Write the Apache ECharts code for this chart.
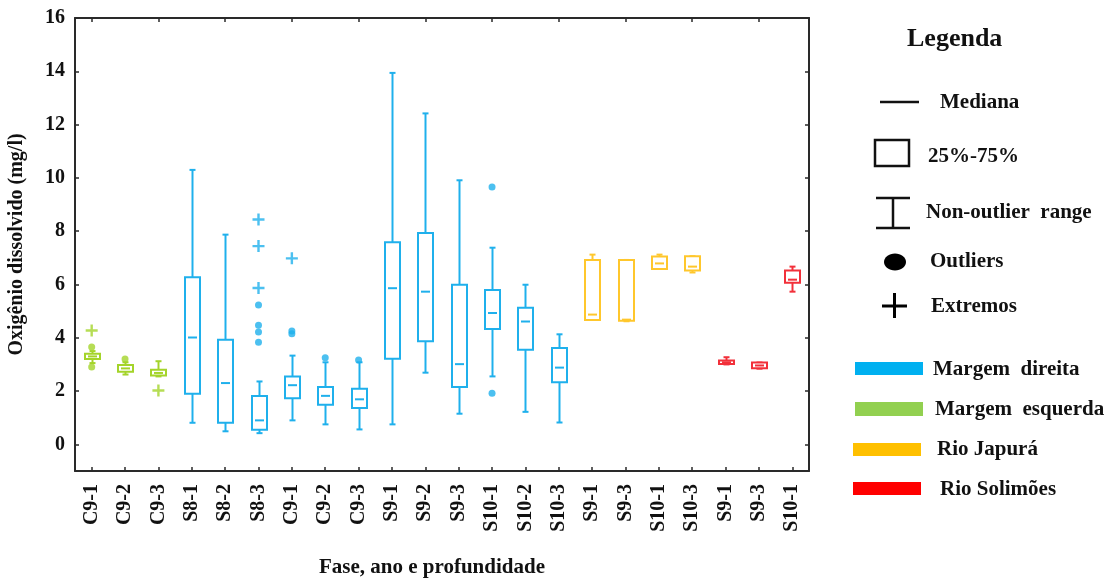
<!DOCTYPE html>
<html>
<head>
<meta charset="utf-8">
<script src="https://cdn.jsdelivr.net/npm/echarts@6/dist/echarts.min.js"></script>
<style>
  html, body { margin: 0; padding: 0; background: #fff; }
  #chart { width: 1120px; height: 583px; }
</style>
</head>
<body>
<div id="chart"></div>
<script>
// Categories along the x axis (phase, year and depth)
const categories = ['C9-1', 'C9-2', 'C9-3', 'S8-1', 'S8-2', 'S8-3', 'C9-1', 'C9-2', 'C9-3',
  'S9-1', 'S9-2', 'S9-3', 'S10-1', 'S10-2', 'S10-3', 'S9-1', 'S9-3', 'S10-1', 'S10-3',
  'S9-1', 'S9-3', 'S10-1'];

// Y axis tick values
const yTicks = [0, 2, 4, 6, 8, 10, 12, 14, 16];

// Box statistics: [category index, min, Q1, median, Q3, max]
const esquerdaBoxes = [
  [0, 3.05, 3.20, 3.30, 3.40, 3.50],
  [1, 2.62, 2.72, 2.85, 2.98, 3.08],
  [2, 2.55, 2.58, 2.68, 2.80, 3.12]
];
const direitaBoxes = [
  [3, 0.81, 1.90, 4.01, 6.27, 10.30],
  [4, 0.49, 0.81, 2.30, 3.93, 7.87],
  [5, 0.42, 0.55, 0.90, 1.81, 2.36],
  [6, 0.90, 1.73, 2.22, 2.55, 3.33],
  [7, 0.75, 1.49, 1.82, 2.15, 3.08],
  [8, 0.56, 1.36, 1.69, 2.09, 3.08],
  [9, 0.75, 3.21, 5.86, 7.58, 13.94],
  [10, 2.69, 3.87, 5.73, 7.93, 12.42],
  [11, 1.15, 2.15, 3.01, 5.99, 9.91],
  [12, 2.55, 4.33, 4.93, 5.79, 7.38],
  [13, 1.22, 3.55, 4.61, 5.13, 5.99],
  [14, 0.82, 2.33, 2.88, 3.62, 4.13]
];
const japuraBoxes = [
  [15, 4.67, 4.67, 4.87, 6.92, 7.12],
  [16, 4.62, 4.64, 4.68, 6.92, 6.92],
  [17, 6.58, 6.58, 6.79, 7.05, 7.12],
  [18, 6.45, 6.52, 6.67, 7.06, 7.06]
];
const solimoesBoxes = [
  [19, 3.00, 3.02, 3.08, 3.15, 3.27],
  [20, 2.84, 2.86, 2.96, 3.07, 3.07],
  [21, 5.73, 6.06, 6.18, 6.52, 6.67]
];

// Outliers: [category index, value]
const esquerdaOutliers = [[0, 3.65], [0, 2.90], [1, 3.20]];
const direitaOutliers = [
  [5, 5.23], [5, 4.47], [5, 4.22], [5, 3.83],
  [6, 4.25], [6, 4.15],
  [7, 3.25], [8, 3.17],
  [12, 9.66], [12, 1.92]
];

// Extremes: [category index, value]
const esquerdaExtremes = [[0, 4.27], [2, 2.02]];
const direitaExtremes = [[5, 8.44], [5, 7.44], [5, 5.87], [6, 6.98]];

const COLORS = {
  direita: '#1fb0ec',
  esquerda: '#a4d42a',
  japura: '#ffc72c',
  solimoes: '#f2303a'
};
const LEGEND_COLORS = {
  direita: '#00b0f0',
  esquerda: '#92d050',
  japura: '#ffc000',
  solimoes: '#ff0000'
};

const FONT = '"Liberation Serif", "DejaVu Serif", serif';
const PLUS = 'path://M4,0h2v4h4v2h-4v4h-2v-4h-4v-2h4z';

// Box-and-whisker glyph with short caps and a short median tick
function renderBox(params, api) {
  const x = api.value(0);
  const pMin = api.coord([x, api.value(1)]);
  const pQ1 = api.coord([x, api.value(2)]);
  const pMed = api.coord([x, api.value(3)]);
  const pQ3 = api.coord([x, api.value(4)]);
  const pMax = api.coord([x, api.value(5)]);
  const cx = Math.round(pMin[0]) + 0.5;
  const color = api.visual('color');
  const hw = 7.5, cap = 3, mw = 4.5;
  const st = { stroke: color, lineWidth: 2, fill: null };
  const line = (x1, y1, x2, y2) => ({ type: 'line', shape: { x1, y1, x2, y2 }, style: st });
  return {
    type: 'group',
    children: [
      line(cx, pQ3[1], cx, pMax[1]),
      line(cx - cap, pMax[1], cx + cap, pMax[1]),
      line(cx, pQ1[1], cx, pMin[1]),
      line(cx - cap, pMin[1], cx + cap, pMin[1]),
      { type: 'rect', shape: { x: cx - hw, y: pQ3[1], width: 2 * hw, height: pQ1[1] - pQ3[1] },
        style: { stroke: color, lineWidth: 2, fill: '#fff' } },
      line(cx - mw, pMed[1], cx + mw, pMed[1])
    ]
  };
}

function boxSeries(data, color) {
  return {
    type: 'custom', renderItem: renderBox, data: data, z: 3,
    itemStyle: { color: color },
    encode: { x: 0, y: [1, 2, 3, 4, 5] }
  };
}
function outlierSeries(data, color) {
  return { type: 'scatter', data: data, symbol: 'circle', symbolSize: 7, z: 4,
    itemStyle: { color: color } };
}
function extremeSeries(data, color) {
  return { type: 'scatter', data: data, symbol: PLUS, symbolSize: 12, z: 4,
    itemStyle: { color: color } };
}

const chart = echarts.init(document.getElementById('chart'));

const axisLine = { show: true, onZero: false, lineStyle: { color: '#2a2a2a', width: 2 } };
const tickStyle = { show: true, inside: true, length: 4, lineStyle: { color: '#2a2a2a', width: 1.5 } };
const textStyle = (size) => ({ fontFamily: FONT, fontWeight: 'bold', fontSize: size, color: '#111' });

// Legend drawn at the right of the plot
const LFONT = 'bold 21px ' + FONT;
const legendLabel = (x, y, text) => ({
  type: 'text', x: x, y: y,
  style: { text: text, font: LFONT, fill: '#111', verticalAlign: 'middle', align: 'left' }
});
const legendGraphics = [
  { type: 'text', x: 907, y: 39, style: { text: 'Legenda', font: 'bold 26px ' + FONT, fill: '#111', verticalAlign: 'middle' } },
  { type: 'line', shape: { x1: 880, y1: 102, x2: 919, y2: 102 }, style: { stroke: '#111', lineWidth: 2.5 } },
  legendLabel(940, 103, 'Mediana'),
  { type: 'rect', shape: { x: 875, y: 140, width: 34, height: 26 }, style: { stroke: '#111', lineWidth: 2.5, fill: 'none' } },
  legendLabel(928, 157, '25%-75%'),
  { type: 'line', shape: { x1: 876, y1: 198, x2: 910, y2: 198 }, style: { stroke: '#111', lineWidth: 2.5 } },
  { type: 'line', shape: { x1: 893, y1: 198, x2: 893, y2: 228 }, style: { stroke: '#111', lineWidth: 2.5 } },
  { type: 'line', shape: { x1: 876, y1: 228, x2: 910, y2: 228 }, style: { stroke: '#111', lineWidth: 2.5 } },
  legendLabel(926, 213, 'Non-outlier  range'),
  { type: 'ellipse', shape: { cx: 895, cy: 262, rx: 11, ry: 8.5 }, style: { fill: '#000' } },
  legendLabel(930, 262, 'Outliers'),
  { type: 'line', shape: { x1: 882, y1: 306, x2: 907, y2: 306 }, style: { stroke: '#000', lineWidth: 3 } },
  { type: 'line', shape: { x1: 894.5, y1: 293, x2: 894.5, y2: 318 }, style: { stroke: '#000', lineWidth: 3 } },
  legendLabel(931, 307, 'Extremos'),
  { type: 'rect', shape: { x: 855, y: 362, width: 68, height: 13 }, style: { fill: LEGEND_COLORS.direita } },
  legendLabel(933, 370, 'Margem  direita'),
  { type: 'rect', shape: { x: 855, y: 402, width: 68, height: 14 }, style: { fill: LEGEND_COLORS.esquerda } },
  legendLabel(935, 410, 'Margem  esquerda'),
  { type: 'rect', shape: { x: 853, y: 443, width: 68, height: 13 }, style: { fill: LEGEND_COLORS.japura } },
  legendLabel(937, 450, 'Rio Japurá'),
  { type: 'rect', shape: { x: 853, y: 482, width: 68, height: 13 }, style: { fill: LEGEND_COLORS.solimoes } },
  legendLabel(940, 490, 'Rio Solimões')
];

chart.setOption({
  animation: false,
  backgroundColor: '#fff',
  grid: { left: 75, right: 311, top: 18, bottom: 112, containLabel: false, outerBoundsMode: 'none' },
  xAxis: [
    {
      type: 'category', data: categories, position: 'bottom',
      axisLine: axisLine,
      axisTick: Object.assign({ alignWithLabel: true }, tickStyle),
      axisLabel: Object.assign({ rotate: 90, margin: 13, interval: 0 }, textStyle(20)),
      name: 'Fase, ano e profundidade', nameLocation: 'middle', nameGap: 86,
      nameTextStyle: Object.assign({ padding: [0, 20, 0, 0] }, textStyle(21))
    },
    {
      type: 'category', data: categories, position: 'top',
      axisLine: axisLine,
      axisTick: Object.assign({ alignWithLabel: true }, tickStyle),
      axisLabel: { show: false }
    }
  ],
  yAxis: [
    {
      type: 'value', min: -1, max: 16, position: 'left',
      axisLine: axisLine,
      axisTick: Object.assign({ customValues: yTicks }, tickStyle),
      axisLabel: Object.assign({ customValues: yTicks, margin: 10 }, textStyle(20)),
      splitLine: { show: false },
      name: 'Oxigênio dissolvido (mg/l)', nameLocation: 'middle', nameGap: 48,
      nameTextStyle: textStyle(20)
    },
    {
      type: 'value', min: -1, max: 16, position: 'right',
      axisLine: axisLine,
      axisTick: Object.assign({ customValues: yTicks }, tickStyle),
      axisLabel: { show: false },
      splitLine: { show: false }
    }
  ],
  series: [
    boxSeries(esquerdaBoxes, COLORS.esquerda),
    boxSeries(direitaBoxes, COLORS.direita),
    boxSeries(japuraBoxes, COLORS.japura),
    boxSeries(solimoesBoxes, COLORS.solimoes),
    outlierSeries(esquerdaOutliers, COLORS.esquerda),
    outlierSeries(direitaOutliers, COLORS.direita),
    extremeSeries(esquerdaExtremes, COLORS.esquerda),
    extremeSeries(direitaExtremes, COLORS.direita)
  ],
  graphic: legendGraphics
});
</script>
</body>
</html>
